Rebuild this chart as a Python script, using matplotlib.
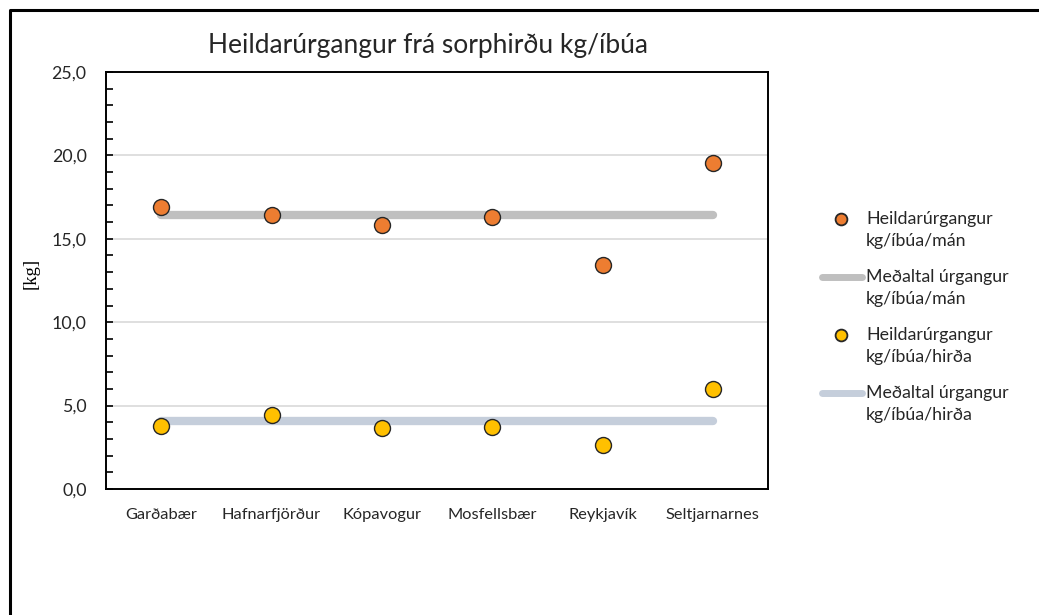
import matplotlib
matplotlib.use("Agg")
import matplotlib.pyplot as plt
from matplotlib.lines import Line2D
from matplotlib.ticker import FuncFormatter, MultipleLocator

# ── data ───────────────────────────────────────────────────────────────────
sveitarfelog = ["Garðabær", "Hafnarfjörður", "Kópavogur", "Mosfellsbær",
                "Reykjavík", "Seltjarnarnes"]
kg_man = [16.9, 16.4, 15.8, 16.3, 13.4, 19.55]
kg_hirda = [3.8, 4.45, 3.65, 3.7, 2.65, 6.0]
medal_man = [16.4] * len(sveitarfelog)
medal_hirda = [4.05] * len(sveitarfelog)

labels = ["Heildarúrgangur\nkg/íbúa/mán", "Meðaltal úrgangur\nkg/íbúa/mán",
          "Heildarúrgangur\nkg/íbúa/hirða", "Meðaltal úrgangur\nkg/íbúa/hirða"]

# ── palette ────────────────────────────────────────────────────────────────
C_ORANGE = "#ED7D31"
C_YELLOW = "#FFC000"
C_GREY = "#BFBFBF"
C_BLUEGREY = "#C5CEDB"
C_TEXT = "#262626"
FONT = "Lato"

plt.rcParams["font.family"] = [FONT, "DejaVu Sans"]

W, H = 1039, 615
fig = plt.figure(figsize=(W / 100, H / 100), dpi=100)
ax = fig.add_axes([106 / W, 1 - 489 / H, (768 - 106) / W, (489 - 72) / H])

x = range(len(sveitarfelog))
ax.plot(x, medal_man, color=C_GREY, lw=6, solid_capstyle="round", zorder=2)
ax.plot(x, medal_hirda, color=C_BLUEGREY, lw=6, solid_capstyle="round", zorder=2)
ax.plot(x, kg_man, ls="none", marker="o", ms=11.5, mfc=C_ORANGE,
        mec=C_TEXT, mew=1.0, zorder=3)
ax.plot(x, kg_hirda, ls="none", marker="o", ms=11.5, mfc=C_YELLOW,
        mec=C_TEXT, mew=1.0, zorder=3)

ax.set_xlim(-0.5, len(sveitarfelog) - 0.5)
ax.set_ylim(0, 25)
ax.set_xticks(list(x))
ax.set_xticklabels(sveitarfelog, fontsize=11.8, color=C_TEXT)
ax.tick_params(axis="x", length=0, pad=14)
ax.yaxis.set_major_locator(MultipleLocator(5))
ax.yaxis.set_minor_locator(MultipleLocator(1))
ax.yaxis.set_major_formatter(FuncFormatter(lambda v, p: f"{v:.1f}".replace(".", ",")))
ax.tick_params(axis="y", which="both", direction="in", length=5, width=1.2,
               labelsize=12.8, labelcolor=C_TEXT, pad=14)
ax.grid(axis="y", color="#D9D9D9", lw=1.2, zorder=0)
for s in ax.spines.values():
    s.set_linewidth(1.4)
    s.set_color("black")

ax.set_ylabel("[kg]", family=["Liberation Serif", "DejaVu Serif"], fontsize=13.5)
ax.yaxis.set_label_coords(-66 / (768 - 106), (489 - 273) / (489 - 72))

fig.text(428 / W, 1 - 45 / H, "Heildarúrgangur frá sorphirðu kg/íbúa",
         ha="center", va="center", fontsize=19, color=C_TEXT)

# ── legend, drawn by hand so the handle sits on the first text line ─────────
leg_y = [219, 277, 335, 393]
kinds = [("m", C_ORANGE), ("l", C_GREY), ("m", C_YELLOW), ("l", C_BLUEGREY)]
for yy, (kind, col), lab in zip(leg_y, kinds, labels):
    fy = 1 - yy / H
    if kind == "m":
        fig.add_artist(Line2D([841 / W], [fy], ls="none", marker="o", ms=8.5,
                              mfc=col, mec=C_TEXT, mew=1.3,
                              transform=fig.transFigure))
    else:
        fig.add_artist(Line2D([822 / W, 862 / W], [fy, fy], color=col, lw=5,
                              solid_capstyle="round", transform=fig.transFigure))
    first, second = lab.split("\n")
    fig.text(866 / W, fy, first, ha="left", va="center", fontsize=12.8,
             color=C_TEXT)
    fig.text(866 / W, 1 - (yy + 22) / H, second, ha="left", va="center",
             fontsize=12.8, color=C_TEXT)

# outer chart frame (only top and left edges are visible in the crop)
fig.add_artist(Line2D([10 / W, 10 / W, 1.0], [0.0, 1 - 10 / H, 1 - 10 / H],
                      color="black", lw=2.2, transform=fig.transFigure))

fig.savefig("out.png", dpi=100, facecolor="white")
